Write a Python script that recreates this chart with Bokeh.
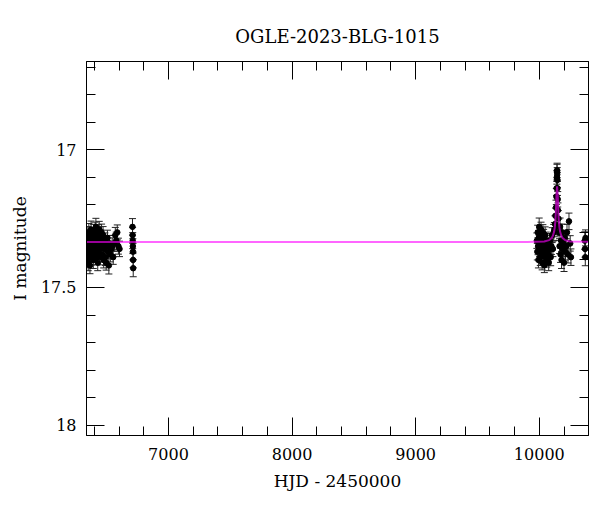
from bokeh.plotting import figure
from bokeh.models import (ColumnDataSource, Range1d, LinearAxis, SingleIntervalTicker,
                          Whisker, TeeHead, Title)
from bokeh.embed import file_html
from bokeh.resources import INLINE

title_text = "OGLE-2023-BLG-1015"
x_label = "HJD - 2450000"
y_label = "I magnitude"
y_tick_labels = {17: "17", 17.5: "17.5", 18: "18"}

# season 1
s1_hjd = [6340, 6343, 6346, 6348, 6351, 6354, 6356, 6359, 6362, 6365, 6368, 6371, 6374, 6377,
          6380, 6383, 6386, 6389, 6392, 6395, 6398, 6401, 6404, 6407, 6410, 6413, 6416, 6419,
          6422, 6425, 6428, 6431, 6434, 6437, 6440, 6443, 6447, 6451, 6455, 6459, 6463, 6467,
          6471, 6476, 6481, 6486, 6491, 6496, 6501, 6506, 6512, 6518, 6524, 6530, 6537, 6545,
          6553, 6562, 6570, 6578, 6586, 6595, 6604,
          6709, 6710, 6711, 6712, 6713, 6714, 6715]
s1_mag = [17.40, 17.33, 17.37, 17.31, 17.41, 17.35, 17.30, 17.38, 17.34, 17.42, 17.32, 17.36, 17.29, 17.39,
          17.33, 17.37, 17.31, 17.35, 17.40, 17.30, 17.34, 17.38, 17.32, 17.29, 17.36, 17.28, 17.33, 17.39,
          17.31, 17.35, 17.41, 17.30, 17.37, 17.33, 17.29, 17.36, 17.39, 17.32, 17.35, 17.30, 17.38, 17.34,
          17.31, 17.40, 17.36, 17.33, 17.39, 17.41, 17.35, 17.32, 17.37, 17.42, 17.34, 17.38, 17.36, 17.35,
          17.39, 17.34, 17.31, 17.33, 17.30, 17.35, 17.36,
          17.28, 17.31, 17.33, 17.35, 17.37, 17.40, 17.43]
s1_err = [0.028, 0.030, 0.026, 0.031, 0.029, 0.027, 0.032, 0.028, 0.026, 0.030, 0.029, 0.027, 0.031, 0.028,
          0.026, 0.030, 0.028, 0.027, 0.031, 0.029, 0.026, 0.028, 0.030, 0.027, 0.029, 0.031, 0.026, 0.028,
          0.030, 0.027, 0.029, 0.028, 0.026, 0.031, 0.030, 0.027, 0.028, 0.029, 0.026, 0.030, 0.028, 0.027,
          0.031, 0.029, 0.026, 0.028, 0.030, 0.027, 0.029, 0.028, 0.026, 0.031, 0.029, 0.027, 0.028, 0.030,
          0.026, 0.029, 0.028, 0.031, 0.027, 0.029, 0.028,
          0.030, 0.028, 0.029, 0.027, 0.030, 0.028, 0.031]

# season 2 (with event)
s2_hjd = [9980, 9984, 9987, 9990, 9993, 9996, 9999, 10002, 10005, 10008, 10011, 10014, 10017, 10020,
          10023, 10026, 10029, 10032, 10035, 10038, 10041, 10044, 10047, 10050, 10053, 10056, 10060,
          10064, 10068, 10072, 10076, 10080, 10086, 10092, 10098, 10104, 10110, 10116, 10122, 10127,
          10131, 10135, 10138, 10140, 10142, 10143, 10144, 10145, 10146, 10147, 10149, 10151, 10154,
          10157, 10160, 10164, 10168, 10172, 10176, 10180, 10185, 10190, 10195, 10200, 10206, 10212,
          10218, 10224, 10232, 10240, 10250, 10256,
          10368, 10370, 10372, 10374]
s2_mag = [17.33, 17.37, 17.30, 17.35, 17.40, 17.32, 17.28, 17.36, 17.31, 17.39, 17.34, 17.29, 17.37, 17.33,
          17.41, 17.35, 17.30, 17.38, 17.32, 17.36, 17.42, 17.34, 17.31, 17.39, 17.35, 17.33, 17.40,
          17.37, 17.34, 17.38, 17.41, 17.36, 17.33, 17.39, 17.35, 17.31, 17.36, 17.30, 17.29, 17.27,
          17.24, 17.21, 17.17, 17.14, 17.10, 17.08, 17.075, 17.09, 17.11, 17.14, 17.18, 17.22, 17.25,
          17.28, 17.30, 17.35, 17.28, 17.38, 17.33, 17.40, 17.30, 17.36, 17.34, 17.41, 17.32, 17.37,
          17.35, 17.30, 17.38, 17.26, 17.34, 17.39,
          17.33, 17.36, 17.39, 17.32]
s2_err = [0.028, 0.030, 0.026, 0.031, 0.029, 0.027, 0.032, 0.028, 0.026, 0.030, 0.029, 0.027, 0.031, 0.028,
          0.026, 0.030, 0.028, 0.027, 0.031, 0.029, 0.026, 0.028, 0.030, 0.027, 0.029, 0.031, 0.026,
          0.028, 0.030, 0.027, 0.029, 0.028, 0.026, 0.031, 0.030, 0.027, 0.028, 0.029, 0.026, 0.030,
          0.028, 0.027, 0.029, 0.026, 0.025, 0.027, 0.026, 0.025, 0.027, 0.026, 0.028, 0.027, 0.029,
          0.028, 0.030, 0.027, 0.032, 0.029, 0.028, 0.031, 0.030, 0.027, 0.029, 0.032, 0.028, 0.030,
          0.027, 0.029, 0.031, 0.030, 0.028, 0.030,
          0.032, 0.030, 0.031, 0.029]

# model curve
model_hjd = [6300, 9900, 10040, 10080, 10100, 10110, 10120, 10125, 10130, 10135, 10139, 10144,
             10149, 10153, 10158, 10163, 10168, 10178, 10188, 10208, 10248, 10500]
model_mag = [17.335, 17.335, 17.333, 17.328, 17.320, 17.312, 17.297, 17.283, 17.259, 17.216, 17.165, 17.133,
             17.165, 17.216, 17.259, 17.283, 17.297, 17.312, 17.320, 17.328, 17.333, 17.335]

x_start, x_end = 6337, 10398
y_bottom, y_top = 18.037, 16.68

FONT = "DejaVu Serif"

p = figure(width=591, height=503, output_backend="svg", toolbar_location=None,
           x_range=Range1d(x_start, x_end), y_range=Range1d(y_bottom, y_top),
           min_border_left=86, min_border_right=3, min_border_top=61, min_border_bottom=68,
           x_axis_type=None, y_axis_type=None)
p.grid.visible = False
p.outline_line_color = "black"
p.background_fill_color = "white"
p.border_fill_color = "white"

xt = SingleIntervalTicker(interval=1000, num_minor_ticks=5)
yt = SingleIntervalTicker(interval=0.5, num_minor_ticks=5)


def style_axis(ax, labels):
    ax.axis_line_color = "black"
    ax.major_tick_line_color = "black"
    ax.minor_tick_line_color = "black"
    ax.major_tick_in = 18
    ax.major_tick_out = 0
    ax.minor_tick_in = 9
    ax.minor_tick_out = 0
    if labels:
        ax.major_label_text_font = FONT
        ax.major_label_text_font_size = "16px"
        ax.major_label_text_color = "black"
        ax.axis_label_text_font = FONT
        ax.axis_label_text_font_size = "17px"
        ax.axis_label_text_font_style = "normal"
        ax.axis_label_text_color = "black"
    else:
        ax.major_label_text_font_size = "0px"
        ax.major_label_text_color = None
        ax.major_label_standoff = 0
        ax.axis_label_standoff = 0


xb = LinearAxis(ticker=xt, axis_label=x_label)
style_axis(xb, True)
xb.major_label_standoff = 12
xb.axis_label_standoff = 8
p.add_layout(xb, "below")

xa = LinearAxis(ticker=xt)
style_axis(xa, False)
p.add_layout(xa, "above")

yl = LinearAxis(ticker=yt, axis_label=y_label)
style_axis(yl, True)
yl.major_label_overrides = y_tick_labels
yl.major_label_standoff = 10
yl.axis_label_standoff = 8
p.add_layout(yl, "left")

yr = LinearAxis(ticker=yt)
style_axis(yr, False)
p.add_layout(yr, "right")

p.title = Title(text=title_text, text_font=FONT, text_font_size="18px",
                text_font_style="normal", align="center", text_color="black",
                standoff=29)

for hjd, mag, err in [(s1_hjd, s1_mag, s1_err), (s2_hjd, s2_mag, s2_err)]:
    src = ColumnDataSource(dict(x=hjd, y=mag,
                                lo=[m - e for m, e in zip(mag, err)],
                                up=[m + e for m, e in zip(mag, err)]))
    w = Whisker(source=src, base="x", lower="lo", upper="up", dimension="height",
                line_color="#222222", line_width=1,
                lower_head=TeeHead(size=7, line_color="#222222", line_width=1),
                upper_head=TeeHead(size=7, line_color="#222222", line_width=1))
    p.add_layout(w)
    p.scatter("x", "y", source=src, size=5.5, color="black")

p.line(model_hjd, model_mag, line_color="#ff00ff", line_alpha=0.6, line_width=2)

open("out.html", "w").write(file_html(p, INLINE))
